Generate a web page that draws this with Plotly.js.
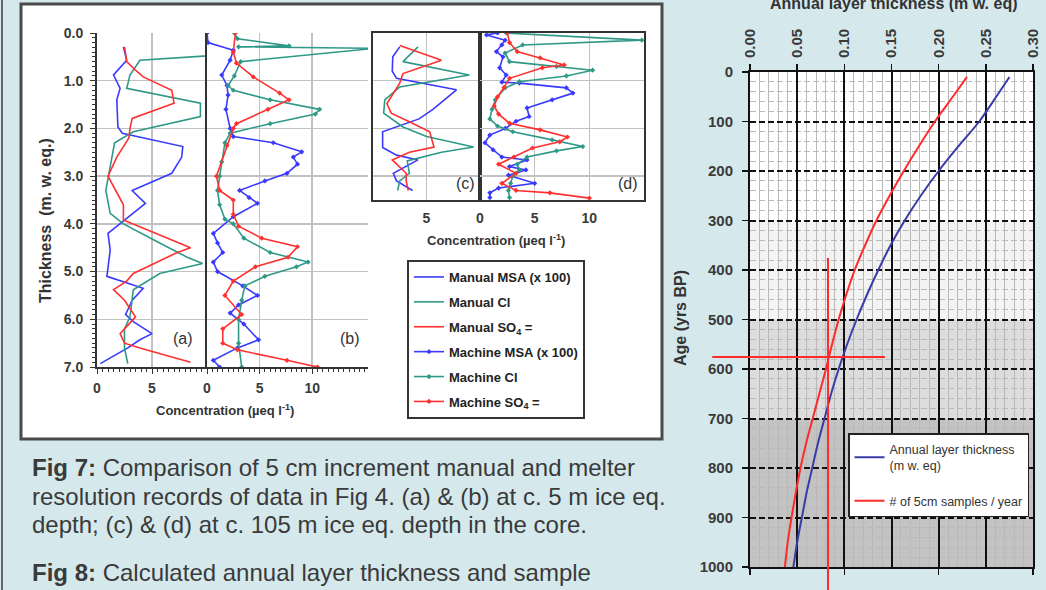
<!DOCTYPE html>
<html><head><meta charset="utf-8">
<script src="https://cdn.plot.ly/plotly-3.0.1.min.js"></script>
<style>html,body{margin:0;padding:0;background:#d5e9ed;}#chart{width:1046px;height:590px;}</style>
</head><body><div id="chart"></div>
<script>
// ---------- DATA ----------
// Panel (a): manual, ~5 m ice eq. (depth in m w. eq., concentration in µeq/l)
const aMsaDepth = [0.29,0.57,0.88,1.16,1.4,1.97,2.1,2.38,2.6,2.94,3.3,3.57,3.92,4.2,4.55,5.1,5.35,5.6,5.9,6.05,6.3,6.43,6.6,6.93];
const aMsaConc  = [2.4,2.7,1.5,2.1,1.8,1.9,2.3,7.8,7.7,6.8,3.2,4.4,2.5,1.0,1.2,0.9,4.2,3.2,2.6,3.3,5.0,3.9,2.8,0.3];
const aClDepth  = [0.3,0.57,0.88,1.16,1.47,1.75,2.07,2.3,2.8,3.3,3.78,4.0,4.4,4.7,4.83,5.04,5.38,5.6,5.95,6.2,6.6,6.93];
const aClConc   = [22,3.9,3.0,2.7,9.4,9.4,3.3,1.6,1.2,0.8,1.2,2.4,5.7,8.2,9.6,5.7,3.3,3.2,3.0,2.5,2.5,2.8];
const aSo4Depth = [0.29,0.6,0.78,0.92,1.2,1.47,1.79,2.0,2.2,2.6,3.0,3.3,3.6,3.92,4.5,4.6,5.04,5.2,5.38,5.6,5.95,6.3,6.5,6.6,6.9];
const aSo4Conc  = [2.5,2.7,3.5,4.2,6.8,7.0,3.2,3.0,2.9,1.8,1.0,1.7,2.4,2.4,8.5,7.3,3.3,2.7,1.5,2.5,3.5,2.1,2.5,3.9,8.5];
// Panel (b): machine (melter), ~5 m ice eq.
const bMsaDepth = [0,0.2,0.36,0.57,0.88,1.1,1.3,1.6,2.0,2.17,2.3,2.49,2.6,2.75,2.94,3.1,3.3,3.45,3.57,3.85,4.2,4.4,4.6,4.8,5.0,5.3,5.5,5.7,5.87,6.1,6.43,6.6,6.86,7.0];
const bMsaConc  = [0,0.1,2.5,2.2,1.4,1.9,2.0,1.8,2.2,2.5,6.3,9.0,8.2,8.6,7.6,5.5,3.1,4.0,4.8,2.5,0.6,1.0,1.5,0.6,1.0,3.4,4.8,3.0,2.2,3.5,4.9,2.9,0.6,1.2];
const bClDepth  = [0,0.12,0.27,0.29,0.32,0.6,0.9,1.1,1.2,1.4,1.6,1.7,1.9,2.1,2.3,2.7,3.0,3.3,3.6,3.9,4.0,4.3,4.6,4.8,4.9,5.1,5.3,5.6,6.0,6.5,7.0];
const bClConc   = [2.6,2.9,7.8,3.0,16,3.2,2.6,2.0,2.5,6.0,10.7,10.3,6.0,2.2,1.7,1.4,1.2,1.0,1.2,1.7,2.5,3.5,6.0,9.6,8.5,5.5,3.6,3.3,3.0,3.0,3.3];
const bSo4Depth = [0,0.4,0.63,0.92,1.26,1.4,1.6,1.9,2.0,2.36,3.0,3.3,3.5,3.8,4.05,4.3,4.48,4.7,4.9,5.2,5.5,5.9,6.2,6.5,6.64,6.86,7.0];
const bSo4Conc  = [2.7,2.5,2.8,4.4,6.9,7.8,5.8,2.8,2.5,1.9,0.9,1.2,2.5,2.5,3.0,5.2,8.6,7.7,4.6,2.5,1.7,3.3,1.5,1.5,2.9,7.6,10.5];
// Panel (c): manual, ~105 m ice eq.
const cMsaDepth = [0.29,0.5,0.8,0.95,1.19,1.6,1.8,2.0,2.07,2.4,2.56,2.66,2.94,3.1,3.3];
const cMsaConc  = [2.5,1.85,1.8,2.2,7.8,5.6,4.3,1.9,0.9,0.9,2.2,4.2,1.9,2.2,3.7];
const cClDepth  = [0.29,0.6,0.88,1.13,1.4,1.68,1.97,2.17,2.39,2.5,2.68,2.94,3.1,3.3];
const cClConc   = [4.2,2.8,9.0,2.5,1.1,1.0,2.8,5.0,9.4,6.4,3.2,3.4,2.5,2.3];
const cSo4Depth = [0.26,0.57,0.85,1.05,1.48,1.68,1.86,2.07,2.39,2.5,2.66,2.94,3.1,3.3];
const cSo4Conc  = [2.5,6.4,2.8,2.5,1.3,1.7,3.4,5.3,5.7,3.4,1.8,3.1,3.1,3.3];
// Panel (d): machine, ~105 m ice eq.
const dMsaDepth = [0,0.04,0.15,0.25,0.39,0.5,0.73,0.88,1.03,1.05,1.15,1.26,1.4,1.57,1.75,1.85,2.0,2.14,2.3,2.45,2.6,2.66,2.8,2.87,2.98,3.15,3.25,3.35,3.45];
const dMsaConc  = [1.6,0.6,2.3,2.0,1.5,2.1,1.8,2.4,2.0,3.6,7.9,8.5,6.6,4.3,4.5,3.3,2.3,0.9,0.45,1.2,2.0,4.3,2.7,4.2,2.6,5.0,1.7,0.9,0.9];
const dClDepth  = [0,0.15,0.25,0.42,0.6,0.7,0.78,0.9,1.02,1.15,1.4,1.6,1.8,1.95,2.07,2.24,2.38,2.47,2.6,2.75,2.87,3.0,3.15,3.3,3.45];
const dClConc   = [2.4,14.8,3.9,2.3,2.7,7.0,10.3,7.9,3.6,2.3,1.4,1.1,0.9,1.6,3.0,6.6,9.4,7.0,4.3,3.4,3.6,3.0,2.8,2.6,2.7];
const dSo4Depth = [0,0.2,0.39,0.52,0.67,0.73,0.95,1.14,1.34,1.53,1.7,1.89,2.03,2.18,2.28,2.41,2.6,2.75,2.94,3.15,3.3,3.35,3.46];
const dSo4Conc  = [2.5,2.7,3.4,5.5,7.7,5.7,2.7,2.2,1.6,1.3,1.7,2.7,5.5,8.0,7.3,4.8,3.1,1.7,3.3,2.0,3.3,6.4,10.0];
// Legend names
const seriesNames = ['Manual MSA (x 100)','Manual Cl','Manual SO<sub>4</sub> =','Machine MSA (x 100)','Machine Cl','Machine SO<sub>4</sub> ='];
const panelLabels = ['(a)','(b)','(c)','(d)'];
// Fig 8: age vs annual layer thickness & samples per year
const ageYears        = [10,50,100,150,200,250,300,350,400,450,500,550,600,650,700,750,800,850,900,950,1000];
const annualThickness = [0.275,0.261,0.243,0.221,0.200,0.181,0.164,0.149,0.136,0.124,0.113,0.103,0.094,0.086,0.079,0.072,0.066,0.060,0.055,0.050,0.046];
const samplesPerYear  = [23.0,21.5,19.6,17.9,16.3,14.8,13.4,12.2,11.1,10.2,9.4,8.7,8.05,7.35,6.65,5.95,5.35,4.85,4.4,4.0,3.7];
const fig8Names = ['Annual layer thickness<br>(m w. eq)','# of 5cm samples / year'];
// crosshair marking 5 cm resolution limit
const crossSamples = 8.27, crossAge = 576, crossAgeTop = 376, crossSamplesLeft = -4.0, crossSamplesRight = 14.3;
const ageBands = [[0,300,'#ffffff'],[300,500,'#f3f3f3'],[500,700,'#dcdcdc'],[700,1000,'#c3c3c3']];
const captionLines = [
  '<b>Fig 7:</b> Comparison of 5 cm increment manual and melter',
  'resolution records of data in Fig 4. (a) &amp; (b) at c. 5 m ice eq.',
  'depth; (c) &amp; (d) at c. 105 m ice eq. depth in the core.',
  '<b>Fig 8:</b> Calculated annual layer thickness and sample'
];

// ---------- LAYOUT HELPERS ----------
const W=1046,H=590;
const px=v=>v/W, py=v=>1-v/H;
const FONT='"Liberation Sans", Arial, sans-serif';
const BLUE='#3a3aff', TEAL='#2f9988', RED='#ff3030';
const tickF=(s)=>({family:FONT,size:s,color:'#3a3a3a',weight:700});
const GRID='#c2c2c2';

function man(x,y,color,name,xa,ya,show){
  return {type:'scatter',mode:'lines',x:x,y:y,xaxis:xa,yaxis:ya,name:name,legend:'legend',legendgroup:name,
    showlegend:show,line:{color:color,width:1.6},hoverinfo:'skip'};
}
function mach(x,y,color,name,xa,ya,show){
  return {type:'scatter',mode:'lines+markers',x:x,y:y,xaxis:xa,yaxis:ya,name:name,legend:'legend',legendgroup:name,
    showlegend:show,line:{color:color,width:1.6},marker:{symbol:'diamond',size:4,color:color},hoverinfo:'skip'};
}
const traces=[
  man(aMsaConc,aMsaDepth,BLUE,seriesNames[0],'x','y',true),
  man(aClConc,aClDepth,TEAL,seriesNames[1],'x','y',true),
  man(aSo4Conc,aSo4Depth,RED,seriesNames[2],'x','y',true),
  mach(bMsaConc,bMsaDepth,BLUE,seriesNames[3],'x2','y2',true),
  mach(bClConc,bClDepth,TEAL,seriesNames[4],'x2','y2',true),
  mach(bSo4Conc,bSo4Depth,RED,seriesNames[5],'x2','y2',true),
  man(cMsaConc,cMsaDepth,BLUE,seriesNames[0],'x3','y3',false),
  man(cClConc,cClDepth,TEAL,seriesNames[1],'x3','y3',false),
  man(cSo4Conc,cSo4Depth,RED,seriesNames[2],'x3','y3',false),
  mach(dMsaConc,dMsaDepth,BLUE,seriesNames[3],'x4','y4',false),
  mach(dClConc,dClDepth,TEAL,seriesNames[4],'x4','y4',false),
  mach(dSo4Conc,dSo4Depth,RED,seriesNames[5],'x4','y4',false),
  {type:'scatter',mode:'lines',x:annualThickness,y:ageYears,xaxis:'x5',yaxis:'y5',name:fig8Names[0],legend:'legend2',
   legendgroup:'f8a',line:{color:'#3b3ba8',width:2,shape:'spline',smoothing:1},hoverinfo:'skip'},
  {type:'scatter',mode:'lines',x:samplesPerYear,y:ageYears,xaxis:'x6',yaxis:'y5',name:fig8Names[1],legend:'legend2',
   legendgroup:'f8b',line:{color:'#ff2b2b',width:2,shape:'spline',smoothing:1},hoverinfo:'skip'}
];

const lineAx={showline:true,linecolor:'#333',linewidth:2,zeroline:false,fixedrange:true};
const yAB=[py(367),py(33)], yCD=[py(200),py(33)];
const layout={
  width:W,height:H,margin:{l:0,r:0,t:0,b:0},autosize:false,
  paper_bgcolor:'#d5e9ed',plot_bgcolor:'#ffffff',
  font:{family:FONT,color:'#333'},
  xaxis:Object.assign({},lineAx,{domain:[px(97),px(207)],anchor:'y',range:[0,10],tickvals:[0,5],ticks:'outside',ticklen:5,tickcolor:'#333',
     showgrid:true,gridcolor:GRID,gridwidth:1.5,tickfont:tickF(14),ticklabelstandoff:2,
     minor:{ticks:'outside',dtick:0.5,ticklen:3,tickcolor:'#333'}}),
  yaxis:Object.assign({},lineAx,{domain:yAB,anchor:'x',range:[7,0],dtick:1,tick0:0,tickformat:'.1f',ticks:'outside',ticklen:5,tickcolor:'#333',
     showgrid:true,gridcolor:GRID,gridwidth:1.5,tickfont:tickF(14),ticklabelstandoff:4,
     minor:{ticks:'outside',dtick:0.1,ticklen:3,tickcolor:'#333'}}),
  xaxis2:Object.assign({},lineAx,{domain:[px(207),px(368)],anchor:'y2',range:[0,15.3],tickvals:[0,5,10],ticks:'outside',ticklen:5,tickcolor:'#333',
     showgrid:true,gridcolor:GRID,gridwidth:1.5,tickfont:tickF(14),ticklabelstandoff:2,
     minor:{ticks:'outside',dtick:0.5,ticklen:3,tickcolor:'#333'}}),
  yaxis2:Object.assign({},lineAx,{domain:yAB,anchor:'x2',range:[7,0],dtick:1,showticklabels:false,ticks:'',
     showgrid:true,gridcolor:GRID,gridwidth:1.5}),
  xaxis3:Object.assign({},lineAx,{domain:[px(373),px(480)],anchor:'y3',range:[0,10],tickvals:[5],ticks:'',mirror:true,
     showgrid:true,gridcolor:GRID,gridwidth:1.5,tickfont:tickF(14),ticklabelstandoff:4}),
  yaxis3:Object.assign({},lineAx,{domain:yCD,anchor:'x3',range:[3.5,0],dtick:1,showticklabels:false,ticks:'',mirror:true,
     showgrid:true,gridcolor:GRID,gridwidth:1.5}),
  xaxis4:Object.assign({},lineAx,{domain:[px(480),px(644)],anchor:'y4',range:[0,15],tickvals:[0,5,10],ticks:'',mirror:true,
     showgrid:true,gridcolor:GRID,gridwidth:1.5,tickfont:tickF(14),ticklabelstandoff:4}),
  yaxis4:Object.assign({},lineAx,{domain:yCD,anchor:'x4',range:[3.5,0],dtick:1,showticklabels:false,ticks:'',mirror:true,
     showgrid:true,gridcolor:GRID,gridwidth:1.5}),
  xaxis5:{domain:[px(750),px(1033)],anchor:'y5',side:'top',range:[0,0.30],dtick:0.05,tick0:0,tickformat:'.2f',tickangle:-90,
     ticks:'outside',ticklen:6,tickcolor:'#111',tickwidth:1.5,showline:true,linecolor:'#111',linewidth:2,zeroline:false,fixedrange:true,
     showgrid:true,gridcolor:'#111',gridwidth:2,tickfont:tickF(15),ticklabelstandoff:3,
     minor:{dtick:0.01,showgrid:true,gridcolor:'#b9b9b9',gridwidth:1}},
  xaxis6:{overlaying:'x5',anchor:'y5',side:'bottom',range:[0,30],dtick:10,tick0:0,ticks:'outside',ticklen:6,tickcolor:'#111',tickwidth:1.5,
     showline:true,linecolor:'#111',linewidth:2,zeroline:false,showgrid:false,fixedrange:true,tickfont:tickF(15),ticklabelstandoff:11},
  yaxis5:{domain:[py(567),py(72)],anchor:'x5',range:[1000,0],dtick:100,tick0:0,ticks:'outside',ticklen:6,tickcolor:'#111',tickwidth:1.5,
     showline:true,mirror:true,linecolor:'#111',linewidth:2,zeroline:false,fixedrange:true,
     showgrid:true,gridcolor:'#111',gridwidth:2,griddash:'6px,3px',tickfont:tickF(15),ticklabelstandoff:6,
     minor:{dtick:20,showgrid:true,gridcolor:'#b9b9b9',gridwidth:1}},
  legend:{x:px(407),y:py(260),xanchor:'left',yanchor:'top',bgcolor:'#ffffff',bordercolor:'#333',borderwidth:2,
     font:{family:FONT,size:13,color:'#222',weight:700},tracegroupgap:5,itemwidth:30,traceorder:'grouped'},
  legend2:{x:px(848),y:py(433),xanchor:'left',yanchor:'top',bgcolor:'#ffffff',bordercolor:'#222',borderwidth:1.5,
     font:{family:FONT,size:12.5,color:'#333'},tracegroupgap:16,itemwidth:30,traceorder:'grouped'},
  shapes:[],annotations:[]
};

// frame, white box
layout.shapes.push({type:'line',xref:'paper',yref:'paper',x0:px(2),x1:px(2),y0:0,y1:1,line:{color:'#666',width:2},layer:'below'});
layout.shapes.push({type:'rect',xref:'paper',yref:'paper',x0:px(21),x1:px(662),y0:py(439),y1:py(4),fillcolor:'#ffffff',
  line:{color:'#4a4a4a',width:3},layer:'below'});
// age shading bands in right chart
ageBands.forEach(b=>layout.shapes.push({type:'rect',xref:'x5 domain',yref:'y5',x0:0,x1:1,y0:b[0],y1:b[1],fillcolor:b[2],line:{width:0},layer:'below'}));
// crosshair (paper coords derived from the axis scales)
const x6dom=[px(750),px(1033)], y5dom=[py(567),py(72)];
const x6p=v=>x6dom[0]+v/30*(x6dom[1]-x6dom[0]);
const y5p=a=>y5dom[1]-a/1000*(y5dom[1]-y5dom[0]);
layout.shapes.push({type:'line',xref:'paper',yref:'paper',x0:x6p(crossSamples),x1:x6p(crossSamples),y0:y5p(crossAgeTop),y1:-0.02,line:{color:'#ff2b2b',width:2}});
layout.shapes.push({type:'line',xref:'paper',yref:'paper',x0:x6p(crossSamplesLeft),x1:x6p(crossSamplesRight),y0:y5p(crossAge),y1:y5p(crossAge),line:{color:'#ff2b2b',width:2}});

function ann(text,x,y,opts){layout.annotations.push(Object.assign({text:text,xref:'paper',yref:'paper',x:px(x),y:py(y),showarrow:false,
  xanchor:'center',yanchor:'middle'},opts||{}));}
ann(panelLabels[0],183,338,{font:{family:FONT,size:16,color:'#333'}});
ann(panelLabels[1],350,338,{font:{family:FONT,size:16,color:'#333'}});
ann(panelLabels[2],465,183,{font:{family:FONT,size:16,color:'#333'}});
ann(panelLabels[3],628,183,{font:{family:FONT,size:16,color:'#333'}});
ann('Concentration (µeq l<sup>-1</sup>)',225,410,{font:{family:FONT,size:13,color:'#333',weight:700}});
ann('Concentration (µeq l<sup>-1</sup>)',496,240,{font:{family:FONT,size:13,color:'#333',weight:700}});
ann('Thickness&nbsp;&nbsp;(m. w. eq.)',45,221,{textangle:-90,font:{family:FONT,size:16,color:'#333',weight:700}});
ann('Annual layer thickness (m w. eq)',893,3,{font:{family:FONT,size:16,color:'#333',weight:700}});
ann('Age (yrs BP)',680,318,{textangle:-90,font:{family:FONT,size:16,color:'#333',weight:700}});
const capY=[467,496,524,572];
captionLines.forEach((t,i)=>ann(t,30,capY[i],{xanchor:'left',font:{family:FONT,size:24,color:'#3a3a3a'}}));

Plotly.newPlot('chart',traces,layout,{staticPlot:true,displayModeBar:false});
</script></body></html>
